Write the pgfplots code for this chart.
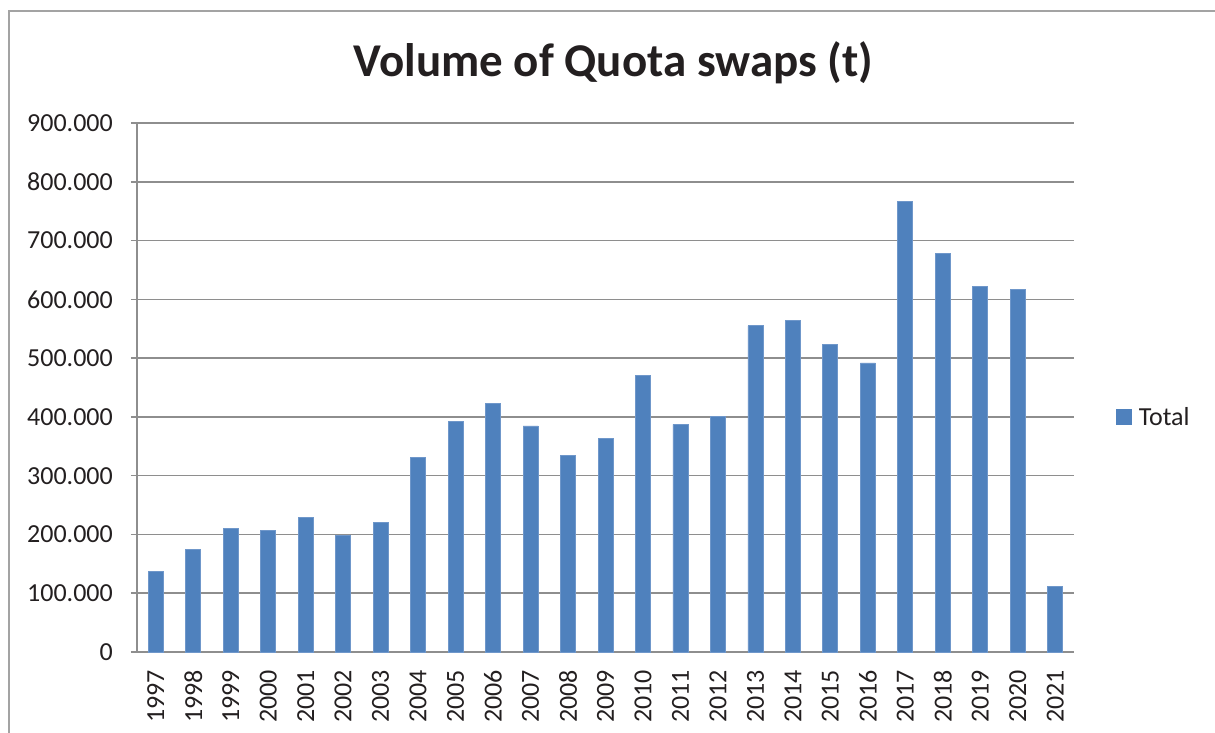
\documentclass[border=0pt]{standalone}
\usepackage{pgfplots}
\pgfplotsset{compat=1.18}
\usepackage{fontspec}
\setmainfont{Carlito}
\definecolor{barblue}{HTML}{4F81BD}
\definecolor{baredge}{HTML}{6F97CA}
\definecolor{gridgray}{HTML}{8E8E8E}
\definecolor{bordergray}{HTML}{A3A3A3}
\definecolor{txt}{HTML}{231F20}
\begin{document}
\begin{tikzpicture}[x=1pt,y=1pt]
\useasboundingbox (-137,-81) rectangle (1078,652);
\draw[bordergray, line width=2pt] (-128,-85) -- (-128,641) -- (1082,641);
\node[anchor=base, text=txt, font=\bfseries\fontsize{47}{56}\selectfont] at (476.5,575.3) {Volume of Quota swaps (t)};
\begin{axis}[
  at={(0,0)}, anchor=south west,
  scale only axis, width=937pt, height=529pt,
  xmin=-0.5, xmax=24.5, ymin=0, ymax=900000,
  ybar, bar width=15pt,
  axis lines*=left,
  axis line style={gridgray, line width=1.5pt},
  xtick={0,...,24},
  xticklabels={1997,1998,1999,2000,2001,2002,2003,2004,2005,2006,2007,2008,2009,2010,2011,2012,2013,2014,2015,2016,2017,2018,2019,2020,2021},
  minor xtick={-0.5,0.5,...,24.5},
  xtick style={draw=none},
  minor tick length=8pt,
  minor tick style={gridgray, line width=1.5pt},
  ytick={0,100000,...,900000},
  yticklabels={0,100.000,200.000,300.000,400.000,500.000,600.000,700.000,800.000,900.000},
  scaled y ticks=false,
  tick align=outside,
  major tick length=6pt,
  ytick style={gridgray, line width=1.5pt},
  ymajorgrids,
  major grid style={gridgray, line width=1.5pt},
  tick label style={text=txt, font=\fontsize{26}{30}\selectfont},
  xticklabel style={rotate=90, anchor=east, inner sep=0pt, xshift=-12pt},
  yticklabel style={anchor=east, inner sep=0pt, xshift=-18pt},
  legend style={at={(1.0448,0.444)}, anchor=west, draw=none, fill=none,
    inner sep=0pt, outer sep=0pt, font=\fontsize{26}{30}\selectfont, text=txt,
    nodes={inner sep=0pt}},
  legend cell align=left,
  legend image code/.code={\fill[barblue] (0pt,-7.5pt) rectangle (15pt,7.5pt);},
  clip=false,
]
\addplot[fill=barblue, draw=baredge, line width=0.8pt] coordinates {
 (0,137500) (1,174400) (2,209500) (3,207300) (4,229500) (5,197600) (6,221000)
 (7,331700) (8,393000) (9,423000) (10,384500) (11,334600) (12,364000) (13,470800)
 (14,387400) (15,400400) (16,554900) (17,564800) (18,523600) (19,491800) (20,766000)
 (21,678000) (22,621800) (23,616200) (24,112000)
};
\addlegendentry{\hspace{7pt}Total}
\end{axis}
\end{tikzpicture}
\end{document}
